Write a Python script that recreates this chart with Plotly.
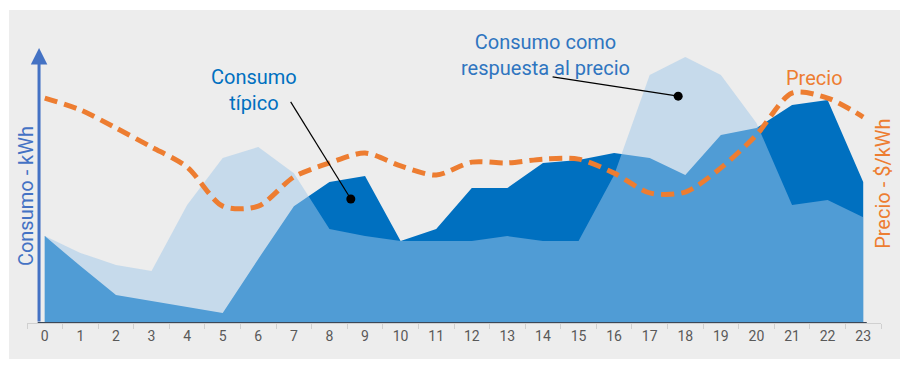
import plotly.graph_objects as go

# ---- data (hours, consumption in arbitrary kWh units, price in arbitrary $/kWh units)
hours = [str(h) for h in range(24)]
consumo_tipico = [31.6, 20.7, 10.2, 8.0, 5.8, 3.6, 23.3, 42.5, 51.3, 53.5, 29.8, 34.2,
                  49.1, 49.1, 58.2, 59.3, 61.8, 60.0, 53.8, 68.4, 70.9, 79.3, 81.1, 51.3]
consumo_respuesta = [31.6, 25.5, 21.1, 18.9, 42.9, 60.0, 64.0, 54.5, 34.2, 31.6, 29.8, 29.8,
                     29.8, 31.6, 29.8, 29.8, 53.8, 90.2, 96.7, 90.2, 72.7, 42.9, 44.7, 38.5]
precio = [81.8, 77.5, 70.9, 64.0, 56.7, 42.5, 42.5, 53.1, 58.2, 61.8, 57.1, 53.8,
          58.5, 58.2, 59.6, 59.6, 54.5, 47.3, 47.6, 56.4, 68.4, 83.6, 81.8, 74.9]

# callout labels: (text, colour, text position, pointer start, pointer dot) in hour / value units
callouts = [
    ("Consumo<br>típico", "#0070C0", (5.87, 84.9), (6.91, 80.4), (8.60, 45.1)),
    ("Consumo como<br>respuesta al precio", "#2F75C0", (14.07, 97.6), (14.27, 89.5), (17.80, 82.5)),
]

FONT = "Roboto"
BLUE_AXIS = "#4472C4"
ORANGE = "#ED7D31"

fig = go.Figure()

fig.add_trace(go.Scatter(
    x=hours, y=consumo_tipico, mode="lines", fill="tozeroy",
    fillcolor="#0070C0", line=dict(width=0, color="#0070C0"),
    name="Consumo típico", hoverinfo="skip"))

fig.add_trace(go.Scatter(
    x=hours, y=consumo_respuesta, mode="lines", fill="tozeroy",
    fillcolor="rgba(159,199,233,0.5)", line=dict(width=0, color="rgba(159,199,233,0.5)"),
    name="Consumo como respuesta al precio", hoverinfo="skip"))

fig.add_trace(go.Scatter(
    x=hours, y=precio, mode="lines", yaxis="y2",
    line=dict(color=ORANGE, width=5, dash="13px,7px", shape="spline", smoothing=0.8),
    name="Precio", hoverinfo="skip"))

shapes = [
    # grey panel
    dict(type="rect", xref="paper", yref="paper", x0=-0.0211, x1=1.0222, y0=-0.131, y1=1.138,
         fillcolor="#EDEDED", line=dict(width=0), layer="below"),
    # dark baseline
    dict(type="line", xref="x", yref="y", x0=-0.2, x1=23.1, y0=0, y1=0,
         line=dict(color="#3C4858", width=2)),
]
annotations = []
dot_x, dot_y = [], []
for text, color, (tx, ty), (sx, sy), (dx, dy) in callouts:
    shapes.append(dict(type="line", xref="x", yref="y", x0=sx, y0=sy, x1=dx, y1=dy,
                       line=dict(color="black", width=1.2)))
    dot_x.append(dx)
    dot_y.append(dy)
    annotations.append(dict(text=text, x=tx, y=ty, xref="x", yref="y", showarrow=False,
                            font=dict(family=FONT, size=20, color=color),
                            xanchor="center", yanchor="middle", align="center"))

fig.add_trace(go.Scatter(x=dot_x, y=dot_y, mode="markers", xaxis="x3", yaxis="y",
                         marker=dict(color="black", size=9), hoverinfo="skip",
                         cliponaxis=False))

annotations += [
    dict(text="Precio", x=21.63, y=89.1, xref="x", yref="y", showarrow=False,
         font=dict(family=FONT, size=20, color=ORANGE), xanchor="center", yanchor="middle"),
    dict(text="Consumo - kWh", x=-0.001, y=46.2, xref="paper", yref="y", showarrow=False,
         textangle=-90, font=dict(family=FONT, size=20, color=BLUE_AXIS),
         xanchor="center", yanchor="middle"),
    dict(text="Precio - $/kWh", x=1.002, y=50.5, xref="paper", yref="y", showarrow=False,
         textangle=-90, font=dict(family=FONT, size=20, color=ORANGE),
         xanchor="center", yanchor="middle"),
    # axis arrows
    dict(text="", x=0.0141, y=100, xref="paper", yref="y", ax=0, ay=275,
         axref="pixel", ayref="pixel", showarrow=True, arrowhead=2, arrowsize=1.1,
         arrowwidth=3, arrowcolor=BLUE_AXIS),
    dict(text="", x=0.9833, y=100.4, xref="paper", yref="y", ax=0, ay=276,
         axref="pixel", ayref="pixel", showarrow=True, arrowhead=2, arrowsize=1.1,
         arrowwidth=3, arrowcolor=ORANGE),
]

fig.update_layout(
    width=909, height=369,
    margin=dict(l=27, r=28, t=48, b=46, autoexpand=False),
    paper_bgcolor="white", plot_bgcolor="rgba(0,0,0,0)",
    showlegend=False,
    font=dict(family=FONT),
    xaxis=dict(type="category", range=[-0.5, 23.5], showgrid=False, zeroline=False,
               showline=True, linecolor="#D0D0D0", linewidth=1,
               ticks="outside", tickson="boundaries", ticklen=5, tickcolor="#D0D0D0",
               tickfont=dict(family=FONT, size=14, color="#595959")),
    xaxis3=dict(overlaying="x", range=[-0.5, 23.5], visible=False),
    yaxis=dict(range=[0, 100], visible=False),
    yaxis2=dict(range=[0, 100], overlaying="y", side="right", visible=False),
    shapes=shapes, annotations=annotations,
)

fig.write_html("out.html", config={"displayModeBar": False},
               post_script="document.body.style.margin='0';document.body.style.overflow='hidden';")
